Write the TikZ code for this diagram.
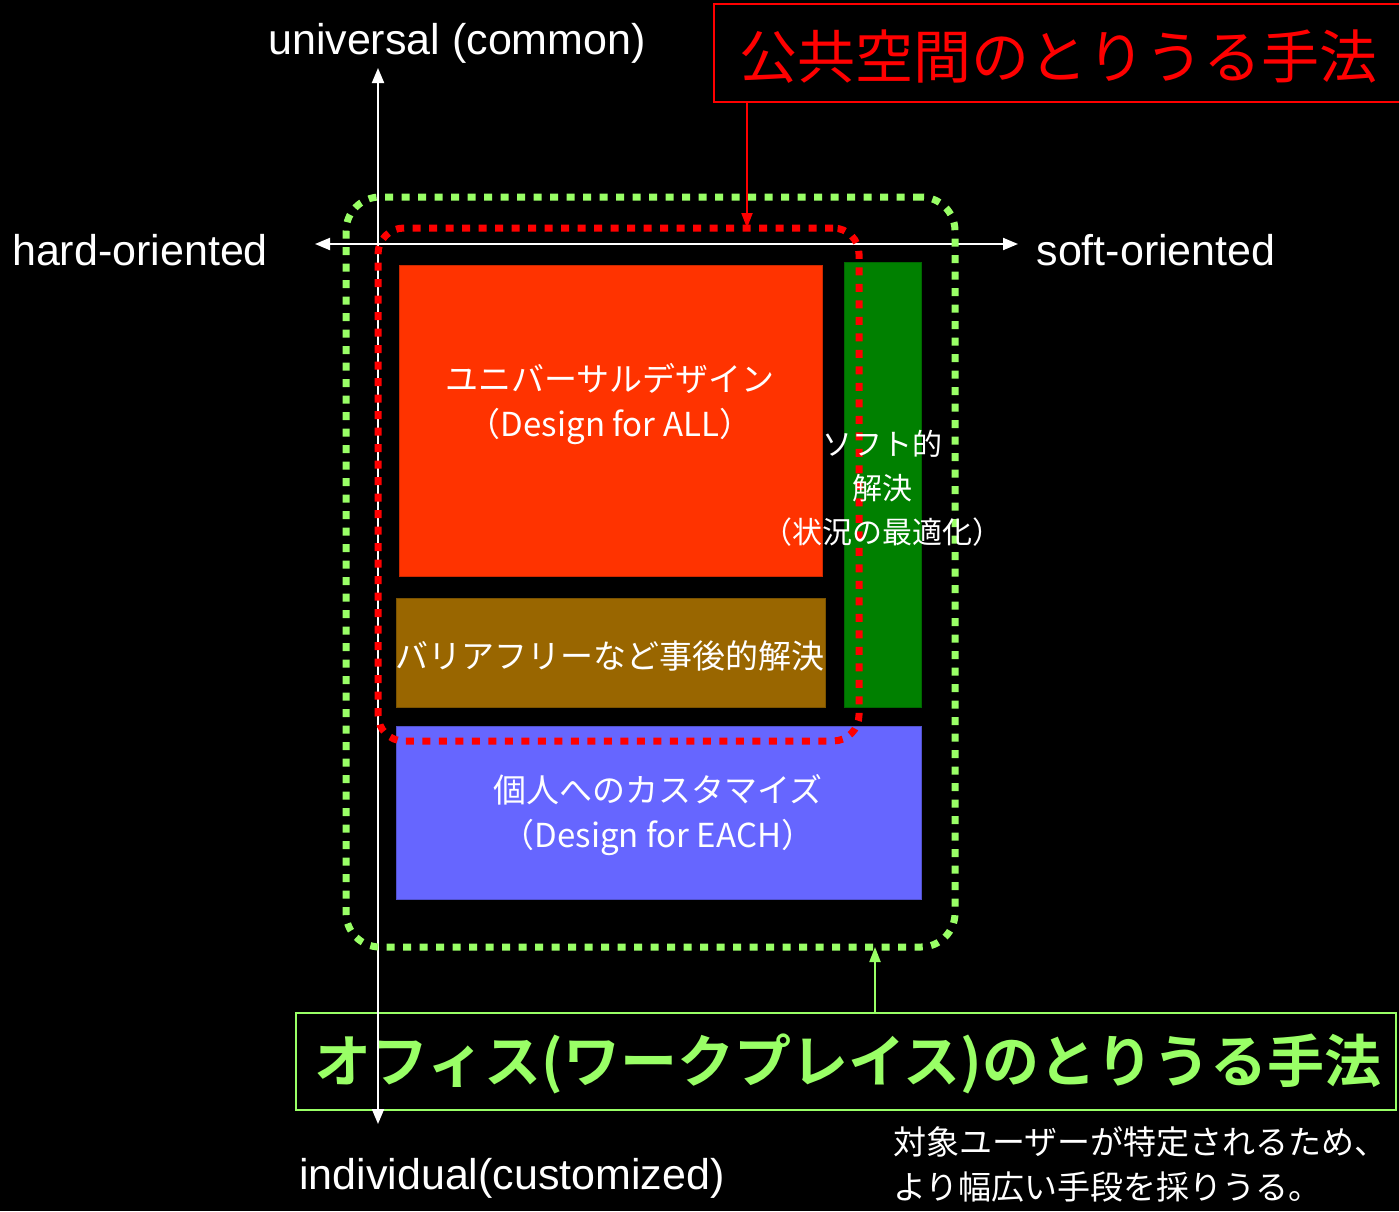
\documentclass[tikz,border=0pt]{standalone}
\usepackage{fontspec}
\setmainfont{Liberation Sans}
\newfontfamily\jp{Noto Sans CJK JP}[BoldFont={Noto Sans CJK JP Bold}]
\usetikzlibrary{arrows.meta}
\definecolor{orangebox}{RGB}{255,51,0}
\definecolor{greenbox}{RGB}{0,128,0}
\definecolor{brownbox}{RGB}{153,102,0}
\definecolor{bluebox}{RGB}{102,102,255}
\definecolor{lgreen}{RGB}{153,255,102}
\begin{document}
\begin{tikzpicture}[x=1pt,y=-1pt,
  block/.style={inner sep=0pt, outer sep=0pt, line width=1pt},
  jtxt/.style={inner sep=0pt, text=white, font=\jp\fontsize{33}{45}\selectfont, align=center},
  axlabel/.style={inner sep=0pt, text=white, font=\fontsize{43}{48}\selectfont},
  axisline/.style={white, line width=2pt, {Triangle[length=15pt,width=12pt]}-{Triangle[length=15pt,width=12pt]}},
  zone/.style={inner sep=0pt, outer sep=0pt, line width=7pt, dash pattern=on 8pt off 8.5pt},
  titlebox/.style={inner sep=0pt, outer sep=0pt, line width=2pt},
]
\useasboundingbox[fill=black] (0,0) rectangle (1399,1211);

% colored blocks
\node[block, fill=orangebox, draw=orangebox!80!black, minimum width=423pt, minimum height=311pt] (ud) at (610.5,420.5) {};
\node[block, fill=greenbox, draw=greenbox!80!black, minimum width=77pt, minimum height=445pt] (soft) at (882.5,484.5) {};
\node[block, fill=brownbox, draw=brownbox!80!black, minimum width=429pt, minimum height=109pt] (bf) at (610.5,652.5) {};
\node[block, fill=bluebox, draw=bluebox!80!black, minimum width=525pt, minimum height=173pt] (each) at (658.5,812.5) {};

% title boxes
\node[titlebox, draw=red, minimum width=690pt, minimum height=98pt] (redtitle) at (1059,53) {};
\node[inner sep=0pt, text=red, font=\jp\fontsize{58}{60}\selectfont] (redtitletxt) at (1058,57) {公共空間のとりうる手法};
\node[titlebox, draw=lgreen, minimum width=1100pt, minimum height=97pt] (greentitle) at (846,1061.5) {};
\node[inner sep=0pt, text=lgreen, font=\jp\bfseries\fontsize{57}{60}\selectfont] (greentitletxt) at (848,1064) {オフィス(ワークプレイス)のとりうる手法};

% axes
\coordinate (hL) at (315,244);
\coordinate (hR) at (1018,244);
\coordinate (vT) at (378,68);
\coordinate (vB) at (378,1124);
\draw[axisline] (hL) -- (hR);
\draw[axisline] (vB) -- (vT);

% zones
\node[zone, draw=lgreen, rounded corners=34pt, minimum width=609pt, minimum height=750pt] (greenzone) at (650.5,572) {};
\node[zone, draw=red, rounded corners=26pt, minimum width=481pt, minimum height=513pt] (redzone) at (618.5,484.5) {};

% connectors
\draw[red, line width=2pt, -{Triangle[length=15pt,width=11pt]}] ([xshift=33pt]redtitle.south west) -- ([xshift=33pt]redtitle.south west |- redzone.north);
\draw[lgreen, line width=2pt, -{Triangle[length=15pt,width=11pt]}] ([xshift=579pt]greentitle.north west) -- ([xshift=579pt]greentitle.north west |- greenzone.south);

% axis labels
\node[axlabel] (universal) at (457,43) {universal (common)};
\node[axlabel] (hard) at (140,250) {hard-oriented};
\node[axlabel] (softor) at (1156,250) {soft-oriented};
\node[axlabel] (indiv) at (512,1178) {individual(customized)};

% block texts
\node[jtxt] (udtxt) at (610,404) {ユニバーサルデザイン\\（Design for ALL）};
\node[jtxt, font=\jp\fontsize{30}{44}\selectfont] (softtxt) at (882,488) {ソフト的\\解決\\（状況の最適化）};
\node[jtxt] (bftxt) at (610,656) {バリアフリーなど事後的解決};
\node[jtxt] (eachtxt) at (658,815) {個人へのカスタマイズ\\（Design for EACH）};

% note
\node[jtxt, align=left, anchor=west] (note) at (893,1164) {対象ユーザーが特定されるため、\\より幅広い手段を採りうる。};
\end{tikzpicture}
\end{document}
